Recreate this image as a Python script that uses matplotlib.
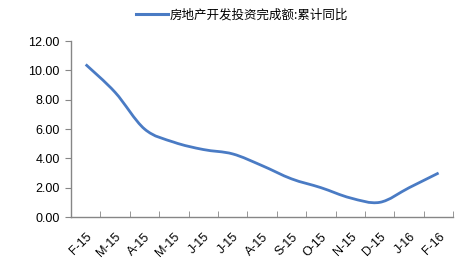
import numpy as np
import matplotlib.pyplot as plt
from matplotlib.path import Path
from matplotlib.patches import PathPatch
from matplotlib.lines import Line2D

plt.rcParams['font.family'] = ['Liberation Sans', 'Noto Sans CJK SC', 'DejaVu Sans']

# 数据
months = ['F-15', 'M-15', 'A-15', 'M-15', 'J-15', 'J-15', 'A-15',
          'S-15', 'O-15', 'N-15', 'D-15', 'J-16', 'F-16']
yoy = [10.4, 8.5, 6.0, 5.1, 4.6, 4.3, 3.5, 2.6, 2.0, 1.3, 1.0, 2.0, 3.0]
series_name = '房地产开发投资完成额:累计同比'

line_col = '#4a7bc4'
axis_col = '#868686'

fig = plt.figure(figsize=(4.64, 2.69), dpi=100)
ax = fig.add_axes([71/464, 1-217/269, (453.3-71)/464, (217-41)/269])

# 平滑曲线(Catmull-Rom -> 三次贝塞尔), 用matplotlib自带的CURVE4路径
x = np.arange(len(yoy), dtype=float)
y = np.array(yoy)
px = np.concatenate([[x[0]], x, [x[-1]]])
py = np.concatenate([[y[0]], y, [y[-1]]])
verts = [(x[0], y[0])]
codes = [Path.MOVETO]
for i in range(1, len(px)-2):
    c1 = (px[i] + (px[i+1]-px[i-1])/6, py[i] + (py[i+1]-py[i-1])/6)
    c2 = (px[i+1] - (px[i+2]-px[i])/6, py[i+1] - (py[i+2]-py[i])/6)
    verts += [c1, c2, (px[i+1], py[i+1])]
    codes += [Path.CURVE4]*3
ax.add_patch(PathPatch(Path(verts, codes), facecolor='none',
                       edgecolor=line_col, lw=2, capstyle='butt'))

ax.set_xlim(-0.5, len(months)-0.5)
ax.set_ylim(0, 12)
ax.set_yticks(np.arange(0, 12.1, 2))
ax.set_yticklabels(['%.2f' % v for v in np.arange(0, 12.1, 2)], fontsize=9)
ax.set_xticks(x)
ax.set_xticklabels(months, rotation=45, ha='right', va='top',
                   rotation_mode='anchor', fontsize=9)
ax.set_xticks(np.arange(-0.5, len(months)), minor=True)
ax.tick_params(axis='x', which='major', length=0, pad=10)
ax.tick_params(axis='x', which='minor', length=4, direction='in', color=axis_col)
ax.tick_params(axis='y', length=4, direction='out', color=axis_col, pad=4)

for s in ['top', 'right']:
    ax.spines[s].set_visible(False)
for s in ['left', 'bottom']:
    ax.spines[s].set_color(axis_col)
    ax.spines[s].set_linewidth(1)

handle = Line2D([], [], color=line_col, lw=2.2)
fig.legend([handle], [series_name], loc='center', bbox_to_anchor=(242/464, 1-15/269),
           frameon=False, handlelength=2.6, handletextpad=0.1,
           prop={'family': ['Noto Sans CJK SC', 'DejaVu Sans'], 'size': 9})

fig.savefig('out.png', dpi=100)
